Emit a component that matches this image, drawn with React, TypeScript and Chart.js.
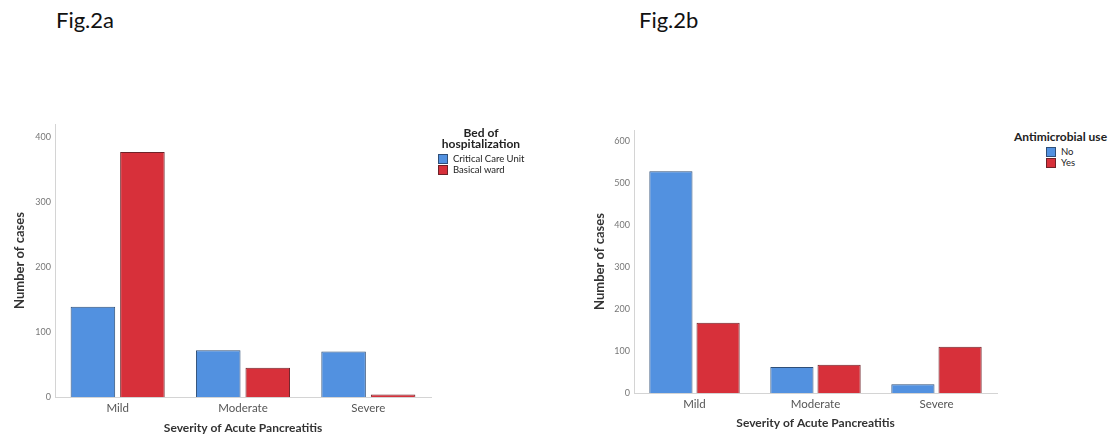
import React, { useEffect, useRef } from "react";
import { Chart, registerables } from "chart.js";

Chart.register(...registerables);

const categories = ["Mild", "Moderate", "Severe"];

const bedLabels = ["Critical Care Unit", "Basical ward"];
const criticalCareUnit = [139, 72, 70];
const basicalWard = [377, 45, 4];

const antimicrobialLabels = ["No", "Yes"];
const antimicrobialNo = [528, 62, 21];
const antimicrobialYes = [167, 67, 110];

const BLUE = "#5291e0";
const BLUE_BORDER = "#2f4f78";
const RED = "#d7303a";
const RED_BORDER = "#6e2228";
const FONT = "Lato, 'Open Sans', sans-serif";

type Cfg = {
  data: [number[], number[]];
  labels: string[];
  max: number;
  yWidth: number;
  xHeight: number;
  padTop: number;
  padRight: number;
  yTitlePad: number;
  xTitlePad: number;
  catPct: number;
  barPct: number;
};

function BarChart({ cfg, style }: { cfg: Cfg; style: React.CSSProperties }) {
  const ref = useRef<HTMLCanvasElement>(null);
  useEffect(() => {
    if (!ref.current) return;
    const chart = new Chart(ref.current, {
      type: "bar",
      data: {
        labels: categories,
        datasets: [
          {
            label: cfg.labels[0],
            data: cfg.data[0],
            backgroundColor: BLUE,
            borderColor: BLUE_BORDER,
            borderWidth: 1,
            categoryPercentage: cfg.catPct,
            barPercentage: cfg.barPct,
          },
          {
            label: cfg.labels[1],
            data: cfg.data[1],
            backgroundColor: RED,
            borderColor: RED_BORDER,
            borderWidth: 1,
            categoryPercentage: cfg.catPct,
            barPercentage: cfg.barPct,
          },
        ],
      },
      options: {
        responsive: false,
        animation: false,
        layout: { padding: { top: cfg.padTop, right: cfg.padRight, left: 0, bottom: 0 } },
        plugins: { legend: { display: false }, tooltip: { enabled: false } },
        scales: {
          x: {
            grid: { display: false, drawTicks: false },
            border: { color: "#d4d4d4", width: 1 },
            ticks: { padding: 4, color: "#555", font: { family: FONT, size: 11.5 } },
            title: {
              display: true,
              text: "Severity of Acute Pancreatitis",
              color: "#333",
              font: { family: FONT, size: 12, weight: "bold" },
              padding: { top: 0, bottom: cfg.xTitlePad },
            },
            afterFit: (s: any) => {
              s.height = cfg.xHeight;
            },
          },
          y: {
            min: 0,
            max: cfg.max,
            grid: { display: false, drawTicks: false },
            border: { color: "#d4d4d4", width: 1 },
            ticks: { stepSize: 100, padding: 4, color: "#777", font: { family: FONT, size: 9 } },
            afterBuildTicks: (s: any) => {
              s.ticks = s.ticks.filter((t: any) => t.value % 100 === 0);
            },
            title: {
              display: true,
              text: "Number of cases",
              color: "#333",
              font: { family: FONT, size: 13, weight: "bold" },
              padding: { top: cfg.yTitlePad, bottom: 0 },
            },
            afterFit: (s: any) => {
              s.width = cfg.yWidth;
            },
          },
        },
      },
    });
    return () => chart.destroy();
  }, []);
  return <canvas ref={ref} width={440} height={338} style={{ position: "absolute", ...style }} />;
}

function Legend({
  title,
  labels,
  titleStyle,
  itemsStyle,
}: {
  title: string[];
  labels: string[];
  titleStyle: React.CSSProperties;
  itemsStyle: React.CSSProperties;
}) {
  const colors = [
    [BLUE, BLUE_BORDER],
    [RED, RED_BORDER],
  ];
  return (
    <>
      <div
        style={{
          position: "absolute",
          fontFamily: FONT,
          color: "#222",
          fontWeight: "bold",
          fontSize: 12,
          lineHeight: "11px",
          textAlign: "center",
          whiteSpace: "nowrap",
          ...titleStyle,
        }}
      >
        {title.map((t) => (
          <div key={t}>{t}</div>
        ))}
      </div>
      <div style={{ position: "absolute", fontFamily: FONT, color: "#222", ...itemsStyle }}>
        {labels.map((l, i) => (
          <div key={l} style={{ display: "flex", alignItems: "center", height: 11, fontSize: 9.5, whiteSpace: "nowrap" }}>
            <span
              style={{
                display: "inline-block",
                width: 8,
                height: 8,
                background: colors[i][0],
                border: `1px solid ${colors[i][1]}`,
                marginRight: 5,
              }}
            />
            <span>{l}</span>
          </div>
        ))}
      </div>
    </>
  );
}

const cfgA: Cfg = {
  data: [criticalCareUnit, basicalWard],
  labels: bedLabels,
  max: 420,
  yWidth: 55,
  xHeight: 41,
  padTop: 24,
  padRight: 9,
  yTitlePad: 12,
  xTitlePad: 3,
  catPct: 0.79,
  barPct: 0.9,
};

const cfgB: Cfg = {
  data: [antimicrobialNo, antimicrobialYes],
  labels: antimicrobialLabels,
  max: 626,
  yWidth: 74,
  xHeight: 45,
  padTop: 30,
  padRight: 3,
  yTitlePad: 32,
  xTitlePad: 8,
  catPct: 0.78,
  barPct: 0.915,
};

export default function App() {
  useEffect(() => {
    document.body.style.margin = "0";
  }, []);
  return (
    <div style={{ position: "absolute", left: 0, top: 0, width: 1111, height: 438, background: "#fff", overflow: "hidden" }}>
      <div style={{ position: "absolute", left: 56, top: 6, fontFamily: FONT, fontSize: 22, color: "#111" }}>Fig.2a</div>
      <div style={{ position: "absolute", left: 639, top: 6, fontFamily: FONT, fontSize: 22, color: "#111" }}>Fig.2b</div>
      <BarChart cfg={cfgA} style={{ left: 0, top: 100 }} />
      <BarChart cfg={cfgB} style={{ left: 560, top: 100 }} />
      <Legend
        title={["Bed of", "hospitalization"]}
        labels={bedLabels}
        titleStyle={{ left: 438, top: 127, width: 86 }}
        itemsStyle={{ left: 438, top: 153 }}
      />
      <Legend
        title={["Antimicrobial use"]}
        labels={antimicrobialLabels}
        titleStyle={{ left: 1012, top: 131, width: 97 }}
        itemsStyle={{ left: 1046, top: 146 }}
      />
    </div>
  );
}
